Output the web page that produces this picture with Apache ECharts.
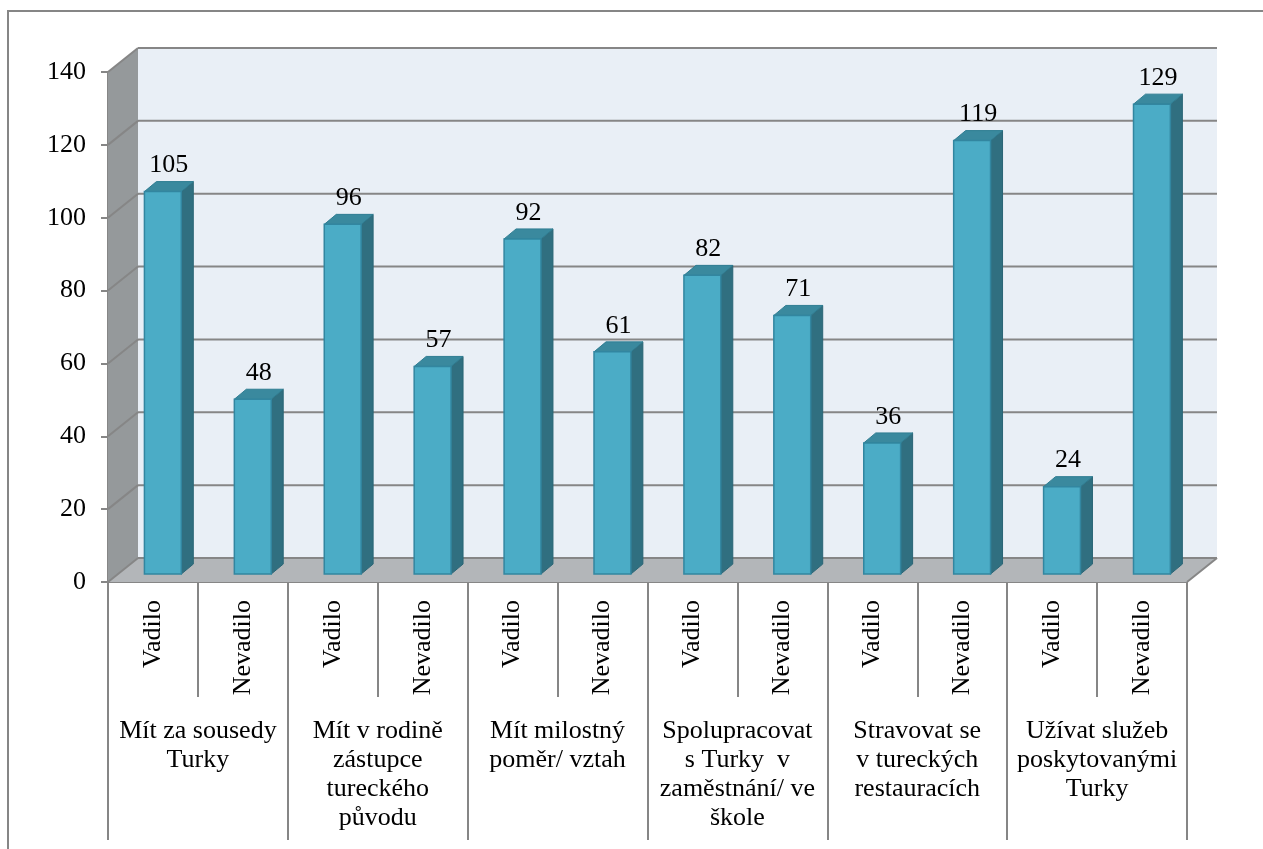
<!DOCTYPE html>
<html>
<head>
<meta charset="utf-8">
<script src="https://cdn.jsdelivr.net/npm/echarts@6/dist/echarts.min.js"></script>
<style>
html,body{margin:0;padding:0;background:#fff;}
#chart{width:1263px;height:849px;}
</style>
</head>
<body>
<div id="chart"></div>
<script>
const subCategories = ['Vadilo','Nevadilo','Vadilo','Nevadilo','Vadilo','Nevadilo','Vadilo','Nevadilo','Vadilo','Nevadilo','Vadilo','Nevadilo'];
const groups = [
  'Mít za sousedy\nTurky',
  'Mít v rodině\nzástupce\ntureckého\npůvodu',
  'Mít milostný\npoměr/ vztah',
  'Spolupracovat\ns Turky  v\nzaměstnání/ ve\nškole',
  'Stravovat se\nv tureckých\nrestauracích',
  'Užívat služeb\nposkytovanými\nTurky'
];
const values = [105,48,96,57,92,61,82,71,36,119,24,129];
const yTicks = [0,20,40,60,80,100,120,140];

const FONT = '"Liberation Serif", "Times New Roman", serif';
const GRID_COLOR = '#868686';
const DX = 30, DY = -24;          // depth of the 3D box
const BAR_DEPTH_FRAC = 0.33;      // bar position in depth
const BDX = 12, BDY = -10;        // bar's own depth

const chart = echarts.init(document.getElementById('chart'), null, {renderer:'canvas'});

function sceneRender(params, api) {
  const cs = params.coordSys;
  const x0 = cs.x, x1 = cs.x + cs.width;
  const yb = api.coord([0, 0])[1];
  const yt = api.coord([0, yTicks[yTicks.length-1]])[1];
  const children = [];
  // back wall
  children.push({type:'rect', shape:{x:x0+DX, y:yt+DY, width:x1-x0, height:yb-yt}, style:{fill:'#E9EFF6'}});
  // side wall
  children.push({type:'polygon', shape:{points:[[x0,yt],[x0+DX,yt+DY],[x0+DX,yb+DY],[x0,yb]]}, style:{fill:'#95999B'}});
  // floor
  children.push({type:'polygon', shape:{points:[[x0,yb],[x0+DX,yb+DY],[x1+DX,yb+DY],[x1,yb]]}, style:{fill:'#B3B6B9'}});
  children.push({type:'line', shape:{x1:x1, y1:yb, x2:x1+DX, y2:yb+DY}, style:{stroke:GRID_COLOR, lineWidth:2}});
  // gridlines on back wall and side wall
  yTicks.forEach(function(v){
    const y = api.coord([0, v])[1];
    children.push({type:'line', shape:{x1:x0+DX, y1:y+DY, x2:x1+DX, y2:y+DY}, style:{stroke:GRID_COLOR, lineWidth:2}});
    children.push({type:'line', shape:{x1:x0, y1:y, x2:x0+DX, y2:y+DY}, style:{stroke:GRID_COLOR, lineWidth:2}});
  });
  return {type:'group', children:children};
}

function barRender(params, api) {
  const idx = api.value(0);
  const val = api.value(1);
  const base = api.coord([idx, 0]);
  const top = api.coord([idx, val]);
  const bw = api.size([1, 0])[0];
  const w = bw * 0.41;
  const ox = DX * BAR_DEPTH_FRAC, oy = DY * BAR_DEPTH_FRAC;
  const cx = base[0] + ox;
  const xl = cx - w/2, xr = cx + w/2;
  const yB = base[1] + oy, yT = top[1] + oy;
  return {type:'group', children:[
    {type:'polygon', shape:{points:[[xr,yT],[xr+BDX,yT+BDY],[xr+BDX,yB+BDY],[xr,yB]]}, style:{fill:'#306F80', stroke:'#2A6575', lineWidth:1}},
    {type:'polygon', shape:{points:[[xl,yT],[xl+BDX,yT+BDY],[xr+BDX,yT+BDY],[xr,yT]]}, style:{fill:'#3A899E', stroke:'#2F7D92', lineWidth:1}},
    {type:'rect', shape:{x:xl, y:yT, width:w, height:yB-yT}, style:{fill:'#4BACC6', stroke:'#3286A0', lineWidth:1.5}},
    {type:'text', style:{text:String(val), x:cx + BDX/2, y:yT + BDY - 3, textAlign:'center', textVerticalAlign:'bottom', font:'26px ' + FONT, fill:'#000'}}
  ]};
}

const option = {
  animation:false,
  backgroundColor:'#fff',
  graphic:[{type:'rect', shape:{x:8, y:11, width:1400, height:1000}, style:{fill:'none', stroke:GRID_COLOR, lineWidth:2}, z:-10}],
  grid:{left:108, right:76, top:72, bottom:267, containLabel:false},
  xAxis:[
    {type:'category', data:subCategories, gridIndex:0, position:'bottom',
     axisLine:{show:true, lineStyle:{color:GRID_COLOR, width:2}},
     axisTick:{show:true, interval:0, length:115, lineStyle:{color:GRID_COLOR, width:2}},
     axisLabel:{interval:0, rotate:90, margin:18, fontSize:26, fontFamily:FONT, color:'#000'},
     splitLine:{show:false}},
    {type:'category', data:groups, gridIndex:0, position:'bottom',
     axisLine:{show:false},
     axisTick:{show:true, interval:0, length:258, lineStyle:{color:GRID_COLOR, width:2}},
     axisLabel:{interval:0, margin:135, fontSize:26, lineHeight:29, fontFamily:FONT, color:'#000', align:'center'},
     splitLine:{show:false}}
  ],
  yAxis:[{type:'value', min:0, max:140, interval:20, gridIndex:0,
    axisLine:{show:true, lineStyle:{color:GRID_COLOR, width:2}},
    axisTick:{show:true, length:7, lineStyle:{color:GRID_COLOR, width:2}},
    axisLabel:{margin:22, fontSize:26, fontFamily:FONT, color:'#000'},
    splitLine:{show:false}}],
  series:[
    {type:'custom', name:'scene', xAxisIndex:0, yAxisIndex:0, renderItem:sceneRender, data:[[0,0]], z:1, silent:true, clip:false},
    {type:'custom', name:'bars', xAxisIndex:0, yAxisIndex:0, renderItem:barRender, data:values.map(function(v,i){return [i,v];}), z:3, clip:false}
  ]
};
chart.setOption(option);
</script>
</body>
</html>
